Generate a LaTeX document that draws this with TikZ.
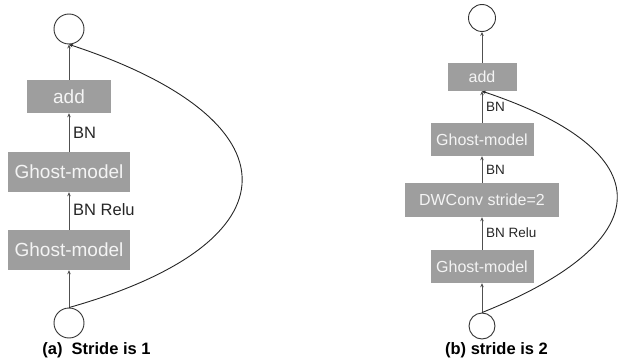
\documentclass[tikz,border=0pt]{standalone}
\usepackage{fontspec}
\setmainfont{Liberation Sans}
\usetikzlibrary{arrows.meta}
\definecolor{boxgray}{HTML}{9E9E9E}
\definecolor{boxtext}{HTML}{F4F4F4}
\definecolor{linegray}{HTML}{505050}
\begin{document}
\begin{tikzpicture}[x=1pt,y=-1pt,
  blk/.style={fill=boxgray, text=boxtext, inner sep=0pt, anchor=center},
  circ/.style={circle, draw=black!80, line width=0.9pt, inner sep=0pt},
  arr/.style={draw=linegray, line width=0.9pt, -{Stealth[length=4pt,width=3.5pt]}},
  curv/.style={draw=black!85, line width=0.9pt, -{Stealth[length=4pt,width=3.5pt]}},
  lbl/.style={text=black!85, inner sep=0pt, anchor=west},
  capt/.style={text=black, inner sep=0pt, font=\fontsize{16.5}{16.5}\selectfont\bfseries},
]
\useasboundingbox (0,0) rectangle (619,361);
% ---------- (a) ----------
\node[circ, minimum size=30pt] (ta) at (69,29) {};
\node[blk, minimum width=84pt, minimum height=33pt, font=\fontsize{19}{19}\selectfont] (adda) at (69,96.5) {add};
\node[blk, minimum width=122pt, minimum height=40pt, font=\fontsize{19}{19}\selectfont] (g1a) at (69,172) {Ghost-model};
\node[blk, minimum width=122pt, minimum height=40pt, font=\fontsize{19}{19}\selectfont] (g2a) at (69,250) {Ghost-model};
\node[circ, minimum size=30pt] (ba) at (69,323) {};
\draw[arr] (ba) -- (g2a);
\draw[arr] (g2a) -- (g1a);
\draw[arr] (g1a) -- (adda);
\draw[arr] (adda) -- (ta);
\node[lbl, font=\fontsize{16.5}{16.5}\selectfont] (la1) at (73,133) {BN};
\node[lbl, font=\fontsize{16.5}{16.5}\selectfont] (la2) at (73,210) {BN Relu};
\draw[curv] (ba.north) .. controls +(230,-65) and +(231,76) .. (ta.south);
\node[capt] (capa) at (96.5,350) {(a)~ Stride is 1};
% ---------- (b) ----------
\node[circ, minimum size=27pt] (tb) at (482,18) {};
\node[blk, minimum width=69pt, minimum height=28pt, font=\fontsize{16}{16}\selectfont] (addb) at (482,77) {add};
\node[blk, minimum width=103pt, minimum height=33pt, font=\fontsize{16}{16}\selectfont] (g1b) at (482,139.5) {Ghost-model};
\node[blk, minimum width=154pt, minimum height=34pt, font=\fontsize{16}{16}\selectfont] (dwb) at (482,200) {DWConv stride=2};
\node[blk, minimum width=103pt, minimum height=33pt, font=\fontsize{16}{16}\selectfont] (g2b) at (482,266.5) {Ghost-model};
\node[circ, minimum size=26pt] (bb) at (482,326) {};
\draw[arr] (bb) -- (g2b);
\draw[arr] (g2b) -- (dwb);
\draw[arr] (dwb) -- (g1b);
\draw[arr] (g1b) -- (addb);
\draw[arr] (addb) -- (tb);
\node[lbl, font=\fontsize{13.5}{13.5}\selectfont] (lb1) at (486,107) {BN};
\node[lbl, font=\fontsize{13.5}{13.5}\selectfont] (lb2) at (486,170) {BN};
\node[lbl, font=\fontsize{13.5}{13.5}\selectfont] (lb3) at (486,233) {BN Relu};
\draw[curv] (bb.north) .. controls +(180,-72) and +(180,60) .. (addb.south);
\node[capt] (capb) at (496.5,350) {(b) stride is 2};
\end{tikzpicture}
\end{document}
